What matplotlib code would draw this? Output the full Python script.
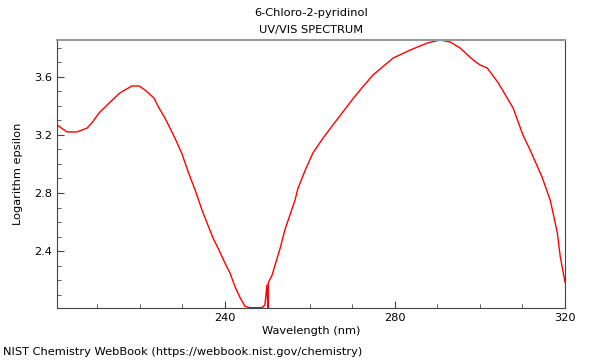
import matplotlib.pyplot as plt
from matplotlib.ticker import MultipleLocator

# Spectrum (nm, log epsilon)
wavelength = [200.5, 202.85, 205.2, 207.6, 208.7, 210.4, 213.0, 215.3, 218.1, 219.8,
              221.2, 223.3, 224.5, 225.9, 228.3, 229.9, 231.3, 233.0, 234.6, 235.8,
              237.2, 238.6, 240.0, 241.2, 242.4, 243.6, 244.7, 245.6, 246.6, 247.7,
              248.7, 249.4, 249.9, 250.15, 250.2, 251.1, 251.8, 253.0, 254.1, 256.5,
              257.2, 258.9, 260.7, 263.1, 265.4, 269.9, 271.8, 274.85, 279.6, 283.6,
              287.6, 290.6, 293.0, 295.3, 298.4, 300.0, 301.7, 304.3, 307.8, 310.1,
              311.8, 314.6, 316.5, 317.2, 318.2, 318.9, 320.0]
log_eps = [3.269, 3.221, 3.221, 3.248, 3.283, 3.352, 3.427, 3.49, 3.538, 3.538,
           3.51, 3.455, 3.386, 3.317, 3.175, 3.07, 2.95, 2.82, 2.683, 2.593,
           2.49, 2.407, 2.317, 2.248, 2.152, 2.076, 2.02, 2.01, 2.009, 2.009,
           2.01, 2.027, 2.165, 1.95, 2.18, 2.234, 2.303, 2.42, 2.545, 2.752,
           2.834, 2.958, 3.076, 3.179, 3.269, 3.441, 3.51, 3.614, 3.731, 3.786,
           3.834, 3.855, 3.841, 3.80, 3.717, 3.683, 3.662, 3.559, 3.386, 3.20,
           3.096, 2.91, 2.752, 2.662, 2.524, 2.358, 2.186]

fs = 8.2

fig = plt.figure(figsize=(6, 3.6), dpi=100)
ax = fig.add_axes([57 / 600, 52 / 360, 508 / 600, 268 / 360])

ax.plot(wavelength, log_eps, color='red', linewidth=1)

ax.set_xlim(200.5, 320)
ax.set_ylim(2.007, 3.855)
ax.xaxis.set_major_locator(MultipleLocator(40))
ax.xaxis.set_minor_locator(MultipleLocator(10))
ax.yaxis.set_major_locator(MultipleLocator(0.4))
ax.yaxis.set_minor_locator(MultipleLocator(0.1))
ax.yaxis.set_major_formatter(plt.FuncFormatter(lambda v, p: f"{v:.1f}"))
ax.tick_params(which='both', direction='in', labelsize=fs, colors='#444444',
               labelcolor='black', top=False, right=False)
ax.tick_params(which='major', length=5)
ax.tick_params(which='minor', length=3)

for side in ['left', 'bottom', 'right']:
    ax.spines[side].set_color('#444444')
ax.spines['top'].set_color('#999999')
ax.spines['top'].set_linewidth(1.5)

ax.set_xlabel("Wavelength (nm)", fontsize=fs, labelpad=2)
ax.set_ylabel("Logarithm epsilon", fontsize=fs, labelpad=8)
fig.text(311 / 600, 1 - 13 / 360, "6-Chloro-2-pyridinol", ha='center', va='center', fontsize=fs)
fig.text(311 / 600, 1 - 30 / 360, "UV/VIS SPECTRUM", ha='center', va='center', fontsize=fs)
fig.text(3 / 600, 1 - 352 / 360, "NIST Chemistry WebBook (https://webbook.nist.gov/chemistry)",
         ha='left', va='center', fontsize=fs)

fig.savefig("out.png", dpi=100)
